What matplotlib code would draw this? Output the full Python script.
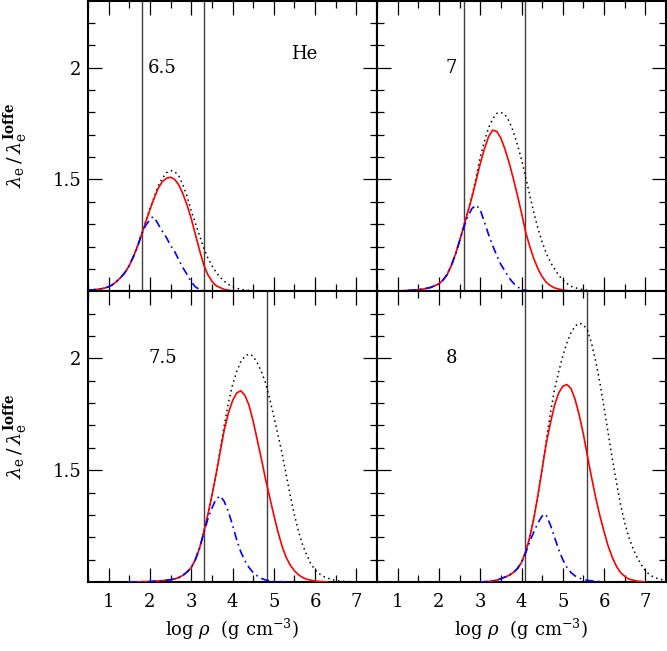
import matplotlib
matplotlib.use("Agg")
import matplotlib.pyplot as plt
from matplotlib.ticker import MultipleLocator, FixedLocator

plt.rcParams['font.family'] = 'serif'
plt.rcParams['font.serif'] = ['DejaVu Serif']
plt.rcParams['mathtext.fontset'] = 'dejavuserif'

# log T values of the panels
panel_labels = ['6.5', '7', '7.5', '8']

# vertical marker lines (log rho) for each panel
vlines = [[1.82, 3.31], [2.60, 4.08], [3.31, 4.83], [4.08, 5.59]]

# --- log T = 6.5 ---
red_x_65 = [0.5, 0.6, 0.7, 0.8, 0.9, 1.0, 1.1, 1.2, 1.3, 1.4, 1.5, 1.6, 1.7, 1.8, 1.9, 2.0, 2.1, 2.2, 2.3, 2.4, 2.5, 2.6, 2.7, 2.8, 2.9, 3.0, 3.1, 3.2, 3.3, 3.4, 3.5, 3.6, 3.8, 4.0]
red_y_65 = [1.005, 1.006, 1.008, 1.01, 1.014, 1.02, 1.03, 1.045, 1.063, 1.085, 1.115, 1.155, 1.20, 1.255, 1.31, 1.365, 1.415, 1.46, 1.49, 1.505, 1.51, 1.50, 1.475, 1.435, 1.385, 1.325, 1.255, 1.185, 1.12, 1.075, 1.045, 1.025, 1.008, 1.002]
dot_x_65 = [0.5, 0.6, 0.7, 0.8, 0.9, 1.0, 1.1, 1.2, 1.3, 1.4, 1.5, 1.6, 1.7, 1.8, 1.9, 2.0, 2.1, 2.2, 2.3, 2.4, 2.5, 2.6, 2.7, 2.8, 2.9, 3.0, 3.1, 3.2, 3.3, 3.4, 3.5, 3.6, 3.7, 3.8, 3.9, 4.0, 4.2, 4.5, 5.0]
dot_y_65 = [1.005, 1.006, 1.008, 1.01, 1.014, 1.02, 1.03, 1.045, 1.063, 1.085, 1.115, 1.155, 1.205, 1.26, 1.315, 1.37, 1.42, 1.47, 1.505, 1.53, 1.54, 1.535, 1.515, 1.475, 1.425, 1.36, 1.305, 1.25, 1.195, 1.15, 1.115, 1.085, 1.063, 1.045, 1.031, 1.02, 1.008, 1.002, 1.0]
blue_x_65 = [0.5, 0.6, 0.7, 0.8, 0.9, 1.0, 1.1, 1.2, 1.3, 1.4, 1.5, 1.6, 1.7, 1.8, 1.9, 2.0, 2.05, 2.1, 2.2, 2.3, 2.4, 2.5, 2.6, 2.7, 2.8, 2.9, 3.0, 3.1, 3.2, 3.3, 3.5]
blue_y_65 = [1.005, 1.006, 1.008, 1.01, 1.014, 1.02, 1.03, 1.045, 1.063, 1.085, 1.115, 1.155, 1.20, 1.255, 1.295, 1.32, 1.33, 1.332, 1.30, 1.268, 1.24, 1.205, 1.177, 1.14, 1.105, 1.075, 1.042, 1.02, 1.008, 1.002, 1.0]

# --- log T = 7 ---
red_x_7 = [0.8, 1.0, 1.2, 1.4, 1.6, 1.8, 2.0, 2.1, 2.2, 2.3, 2.4, 2.5, 2.6, 2.7, 2.8, 2.9, 3.0, 3.1, 3.2, 3.3, 3.4, 3.5, 3.6, 3.7, 3.8, 3.9, 4.0, 4.1, 4.2, 4.3, 4.4, 4.5, 4.6, 4.7, 4.8, 5.0, 5.2]
red_y_7 = [1.0, 1.001, 1.003, 1.005, 1.009, 1.017, 1.033, 1.05, 1.075, 1.115, 1.165, 1.225, 1.29, 1.355, 1.42, 1.495, 1.57, 1.635, 1.69, 1.72, 1.715, 1.685, 1.635, 1.575, 1.505, 1.43, 1.35, 1.265, 1.20, 1.145, 1.10, 1.065, 1.04, 1.025, 1.015, 1.005, 1.001]
dot_x_7 = [0.8, 1.0, 1.2, 1.4, 1.6, 1.8, 2.0, 2.1, 2.2, 2.3, 2.4, 2.5, 2.6, 2.7, 2.8, 2.9, 3.0, 3.1, 3.2, 3.3, 3.4, 3.5, 3.6, 3.7, 3.8, 3.9, 4.0, 4.1, 4.2, 4.3, 4.4, 4.5, 4.6, 4.7, 4.8, 4.9, 5.0, 5.1, 5.2, 5.4, 5.6, 6.0]
dot_y_7 = [1.0, 1.001, 1.003, 1.005, 1.009, 1.017, 1.033, 1.05, 1.075, 1.115, 1.165, 1.225, 1.29, 1.355, 1.425, 1.51, 1.60, 1.67, 1.73, 1.77, 1.795, 1.80, 1.79, 1.76, 1.715, 1.655, 1.59, 1.51, 1.43, 1.35, 1.28, 1.22, 1.17, 1.13, 1.10, 1.072, 1.05, 1.035, 1.022, 1.01, 1.004, 1.0]
blue_x_7 = [0.8, 1.0, 1.2, 1.4, 1.6, 1.8, 2.0, 2.1, 2.2, 2.3, 2.4, 2.5, 2.6, 2.7, 2.8, 2.9, 3.0, 3.1, 3.2, 3.3, 3.4, 3.5, 3.6, 3.7, 3.8, 3.9, 4.0, 4.2]
blue_y_7 = [1.0, 1.001, 1.003, 1.005, 1.009, 1.017, 1.033, 1.05, 1.075, 1.115, 1.165, 1.225, 1.285, 1.335, 1.37, 1.385, 1.365, 1.31, 1.255, 1.205, 1.16, 1.12, 1.09, 1.06, 1.037, 1.02, 1.008, 1.001]

# --- log T = 7.5 ---
red_x_75 = [1.5, 2.0, 2.3, 2.5, 2.6, 2.7, 2.8, 2.9, 3.0, 3.1, 3.2, 3.3, 3.4, 3.5, 3.6, 3.7, 3.8, 3.9, 4.0, 4.1, 4.2, 4.3, 4.4, 4.5, 4.6, 4.7, 4.8, 4.9, 5.0, 5.1, 5.2, 5.3, 5.4, 5.5, 5.6, 5.7, 5.8, 6.0, 6.3]
red_y_75 = [1.0, 1.002, 1.006, 1.01, 1.014, 1.02, 1.03, 1.045, 1.064, 1.10, 1.15, 1.22, 1.30, 1.385, 1.48, 1.58, 1.68, 1.755, 1.81, 1.845, 1.855, 1.835, 1.79, 1.72, 1.635, 1.55, 1.46, 1.38, 1.30, 1.225, 1.16, 1.11, 1.075, 1.05, 1.032, 1.02, 1.012, 1.004, 1.0]
dot_x_75 = [1.5, 2.0, 2.3, 2.5, 2.6, 2.7, 2.8, 2.9, 3.0, 3.1, 3.2, 3.3, 3.4, 3.5, 3.6, 3.7, 3.8, 3.9, 4.0, 4.1, 4.2, 4.3, 4.4, 4.5, 4.6, 4.7, 4.8, 4.9, 5.0, 5.1, 5.2, 5.3, 5.4, 5.5, 5.6, 5.7, 5.8, 5.9, 6.0, 6.1, 6.2, 6.4, 6.6, 7.0]
dot_y_75 = [1.0, 1.002, 1.006, 1.01, 1.014, 1.02, 1.03, 1.045, 1.064, 1.10, 1.15, 1.22, 1.30, 1.385, 1.48, 1.59, 1.70, 1.80, 1.88, 1.94, 1.985, 2.01, 2.02, 2.01, 1.98, 1.94, 1.89, 1.82, 1.74, 1.66, 1.575, 1.48, 1.385, 1.30, 1.225, 1.165, 1.12, 1.08, 1.055, 1.037, 1.025, 1.011, 1.004, 1.0]
blue_x_75 = [1.5, 2.0, 2.3, 2.5, 2.6, 2.7, 2.8, 2.9, 3.0, 3.1, 3.2, 3.3, 3.4, 3.5, 3.6, 3.7, 3.8, 3.9, 4.0, 4.1, 4.2, 4.3, 4.4, 4.5, 4.6, 4.7, 4.8, 5.0, 5.3]
blue_y_75 = [1.0, 1.002, 1.006, 1.01, 1.014, 1.02, 1.03, 1.045, 1.064, 1.10, 1.15, 1.215, 1.28, 1.33, 1.37, 1.385, 1.36, 1.315, 1.255, 1.19, 1.135, 1.095, 1.065, 1.042, 1.027, 1.016, 1.009, 1.003, 1.0]

# --- log T = 8 ---
red_x_8 = [3.0, 3.2, 3.4, 3.5, 3.6, 3.7, 3.8, 3.9, 4.0, 4.1, 4.2, 4.3, 4.4, 4.5, 4.6, 4.7, 4.8, 4.9, 5.0, 5.1, 5.2, 5.3, 5.4, 5.5, 5.6, 5.7, 5.8, 5.9, 6.0, 6.1, 6.2, 6.3, 6.4, 6.5, 6.6, 6.8, 7.0]
red_y_8 = [1.0, 1.002, 1.008, 1.015, 1.022, 1.03, 1.042, 1.06, 1.087, 1.135, 1.20, 1.285, 1.39, 1.505, 1.62, 1.71, 1.79, 1.845, 1.875, 1.883, 1.865, 1.815, 1.745, 1.66, 1.56, 1.465, 1.375, 1.295, 1.225, 1.16, 1.11, 1.07, 1.042, 1.025, 1.013, 1.004, 1.0]
dot_x_8 = [3.0, 3.2, 3.4, 3.5, 3.6, 3.7, 3.8, 3.9, 4.0, 4.1, 4.2, 4.3, 4.4, 4.5, 4.6, 4.7, 4.8, 4.9, 5.0, 5.1, 5.2, 5.3, 5.4, 5.5, 5.6, 5.7, 5.8, 5.9, 6.0, 6.1, 6.2, 6.3, 6.4, 6.5, 6.6, 6.7, 6.8, 6.9, 7.0, 7.1, 7.2, 7.35, 7.5]
dot_y_8 = [1.0, 1.002, 1.008, 1.015, 1.022, 1.03, 1.042, 1.06, 1.087, 1.135, 1.20, 1.285, 1.39, 1.505, 1.635, 1.755, 1.86, 1.94, 2.01, 2.07, 2.115, 2.145, 2.157, 2.15, 2.125, 2.065, 1.985, 1.89, 1.78, 1.665, 1.55, 1.445, 1.345, 1.265, 1.20, 1.15, 1.11, 1.078, 1.05, 1.033, 1.022, 1.012, 1.006]
blue_x_8 = [3.0, 3.2, 3.4, 3.5, 3.6, 3.7, 3.8, 3.9, 4.0, 4.1, 4.2, 4.3, 4.4, 4.5, 4.55, 4.6, 4.7, 4.8, 4.9, 5.0, 5.1, 5.2, 5.3, 5.4, 5.6, 6.0]
blue_y_8 = [1.0, 1.002, 1.008, 1.015, 1.022, 1.03, 1.042, 1.06, 1.087, 1.13, 1.18, 1.225, 1.265, 1.295, 1.304, 1.298, 1.255, 1.20, 1.145, 1.10, 1.065, 1.042, 1.027, 1.017, 1.007, 1.0]

red_x = [red_x_65, red_x_7, red_x_75, red_x_8]
red_y = [red_y_65, red_y_7, red_y_75, red_y_8]
dot_x = [dot_x_65, dot_x_7, dot_x_75, dot_x_8]
dot_y = [dot_y_65, dot_y_7, dot_y_75, dot_y_8]
blue_x = [blue_x_65, blue_x_7, blue_x_75, blue_x_8]
blue_y = [blue_y_65, blue_y_7, blue_y_75, blue_y_8]

fig = plt.figure(figsize=(6.67, 6.51), dpi=100)
gs = fig.add_gridspec(2, 2, left=88/667, right=666/667, bottom=69/651, top=650.5/651,
                      hspace=0, wspace=0)

ylab = r'$\lambda_{\rm e}\,/\,\lambda_{\rm e}^{\mathbf{Ioffe}}$'
xlab = r'$\log\,\rho\ \ ({\rm g\ cm^{-3}})$'

for i in range(4):
    r, c = divmod(i, 2)
    ax = fig.add_subplot(gs[r, c])
    ax.set_xlim(0.5, 7.5)
    ax.set_ylim(1.0, 2.3)

    for xv in vlines[i]:
        ax.axvline(xv, color='0.25', lw=1.0, zorder=1)

    ax.plot(dot_x[i], dot_y[i], color='black', lw=1.1, ls=(0, (1, 2.3)), zorder=3)
    ax.plot(red_x[i], red_y[i], color='red', lw=1.2, zorder=4)
    ax.plot(blue_x[i], blue_y[i], color='blue', lw=1.2, ls=(0, (5, 2.5, 1, 2.5)), zorder=5)

    ax.text(2.3, 2.0, panel_labels[i], fontsize=13, ha='center', va='center')
    if i == 0:
        ax.text(5.73, 2.06, 'He', fontsize=13, ha='center', va='center')

    ax.xaxis.set_major_locator(MultipleLocator(1))
    ax.xaxis.set_minor_locator(MultipleLocator(0.5))
    ax.yaxis.set_major_locator(FixedLocator([1.5, 2.0]))
    ax.yaxis.set_minor_locator(FixedLocator([1.1, 1.2, 1.3, 1.4, 1.6, 1.7, 1.8, 1.9, 2.1, 2.2]))
    ax.tick_params(which='both', direction='in', top=True, right=True, width=0.9, labelsize=13)
    ax.tick_params(which='major', length=10)
    ax.tick_params(which='minor', length=5)
    ax.tick_params(axis='x', pad=8)
    ax.tick_params(axis='y', pad=5)
    ax.yaxis.set_major_formatter(plt.FuncFormatter(lambda v, p: '%g' % v))
    for s in ax.spines.values():
        s.set_linewidth(1.5)

    if c == 0:
        ax.set_ylabel(ylab, fontsize=14, labelpad=16)
    else:
        ax.set_yticklabels([])
    if r == 1:
        ax.set_xlabel(xlab, fontsize=13, labelpad=4)
    else:
        ax.set_xticklabels([])

fig.savefig('out.png', dpi=100)
